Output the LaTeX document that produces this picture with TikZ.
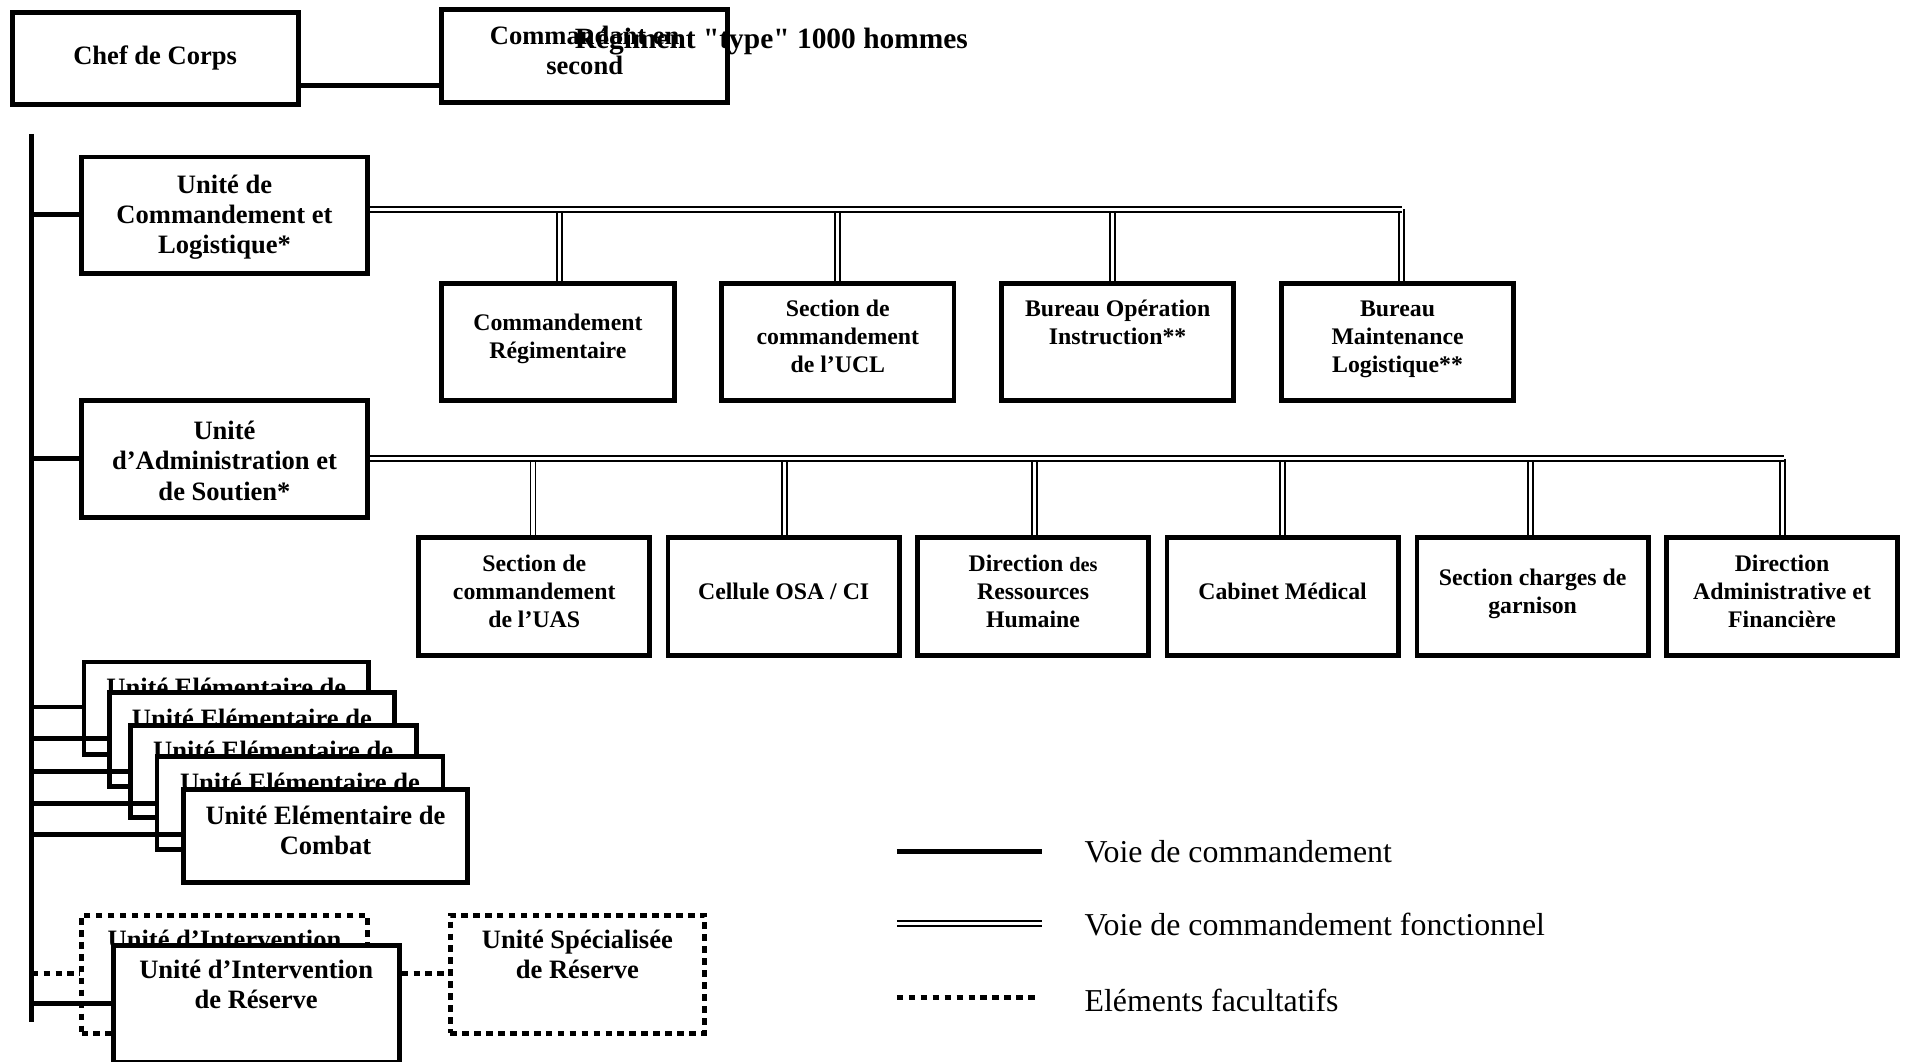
\documentclass[tikz,border=0pt]{standalone}
\usepackage{fontspec}
\setmainfont{Liberation Serif}[Ligatures=TeXOff]
\usetikzlibrary{calc}
\newcommand\lowfix{\rule[-5pt]{0pt}{0pt}}
\begin{document}
\begin{tikzpicture}[x=0.55pt,y=-0.55pt,
  ubox/.style={draw, line width=2.2pt, fill=white, align=center, inner sep=0pt,
    font=\bfseries\fontsize{12}{13.75}\selectfont},
  sbox/.style={ubox, font=\bfseries\fontsize{10.75}{12.65}\selectfont},
  obox/.style={ubox, dash pattern=on 3pt off 2.4pt},
  wh/.style 2 args={minimum width=#1*0.55pt, minimum height=#2*0.55pt},
  cmd/.style={line width=2.2pt},
  opt/.style={line width=2.2pt, dash pattern=on 3pt off 2.4pt},
  fct/.style={double, line width=0.85pt, double distance=1.4pt},
  leg/.style={anchor=west, inner sep=0pt, font=\fontsize{14.4}{16}\selectfont}]
\useasboundingbox (0,0) rectangle (1568,872);
\fill[white] (0,0) rectangle (1568,872);

% main vertical command line
\coordinate (vtop) at (26,110);
\coordinate (vbot) at (26,840);
\draw[cmd] (vtop) -- (vbot);

% ---------- top ----------
\node[ubox, wh={235}{76}] (chef) at (127.5,48) {Chef de Corps};
\draw[cmd] ([yshift=-12.1pt]chef.east) -- ++(115,0) coordinate (cmdw);
\node[ubox, wh={235}{76}] (cmdt) at (480.5,46) {Commandant en\\second\lowfix};
\node[anchor=west, inner sep=0pt, font=\bfseries\fontsize{13.3}{16}\selectfont] (title) at (472,34) {Régiment "type" 1000 hommes};

% ---------- UCL ----------
\coordinate (h1) at (304,172);
\coordinate (h1e) at (1152,172);
\coordinate (d11) at (460,172);
\coordinate (d12) at (688,172);
\coordinate (d13) at (914,172);
\coordinate (d14) at (1152,172);
\draw[cmd] (vtop |- 0,176) coordinate (b1) -- ++(40,0);
\draw[fct] (d11) -- ++(0,60) coordinate (e11);
\draw[fct] (d12) -- ++(0,60) coordinate (e12);
\draw[fct] (d13) -- ++(0,60) coordinate (e13);
\draw[fct] (d14) -- ++(0,60) coordinate (e14);
\draw[fct] (h1) -- (h1e);
\node[ubox, wh={235}{96}] (ucl) at (184.5,177) {\rule{0pt}{10pt}Unité de\\Commandement et\\Logistique*};
\node[sbox, wh={191}{96}] (cr) at (458.5,281) {Commandement\\Régimentaire\lowfix};
\node[sbox, wh={191}{96}] (scucl) at (688.5,281) {Section de\\commandement\\de l’UCL\lowfix};
\node[sbox, wh={191}{96}] (bop) at (918.5,281) {Bureau Opération\\Instruction**\\\lowfix};
\node[sbox, wh={191}{96}] (bml) at (1148.5,281) {Bureau\\Maintenance\\Logistique**\lowfix};

% ---------- UAS ----------
\coordinate (h2) at (304,377);
\coordinate (h2e) at (1466,377);
\coordinate (d21) at (438,377);
\coordinate (d22) at (645,377);
\coordinate (d23) at (850,377);
\coordinate (d24) at (1054,377);
\coordinate (d25) at (1258,377);
\coordinate (d26) at (1465,377);
\draw[cmd] (vtop |- 0,377) -- ++(40,0);
\foreach \d in {d21,d22,d23,d24,d25,d26} {\draw[fct] (\d) -- ++(0,66);}
\draw[fct] (h2) -- (h2e);
\node[ubox, wh={235}{96}] (uas) at (184.5,377) {\rule{0pt}{10pt}Unité\\d’Administration et\\de Soutien*};
\node[sbox, wh={190}{97}] (scuas) at (439,490.5) {Section de\\commandement\\de l’UAS\lowfix};
\node[sbox, wh={190}{97}] (osa) at (644,490.5) {Cellule OSA / CI\lowfix};
\node[sbox, wh={190}{97}] (drh) at (849,490.5) {Direction {\fontsize{9.2}{12.65}\selectfont des}\\Ressources\\Humaine\lowfix};
\node[sbox, wh={190}{97}] (cab) at (1054,490.5) {Cabinet Médical\lowfix};
\node[sbox, wh={190}{97}] (scg) at (1259.5,490.5) {Section charges de\\garnison\lowfix};
\node[sbox, wh={190}{97}] (daf) at (1464.5,490.5) {Direction\\Administrative et\\Financière\lowfix};

% ---------- UEC stack ----------
\draw[cmd] (vtop |- 0,581) -- ++(45,0);
\node[ubox, wh={234}{76}] (uec1) at (186,582) {Unité Elémentaire de\\Combat\lowfix};
\draw[cmd] (vtop |- 0,607) -- ++(65,0);
\node[ubox, wh={234}{77}] (uec2) at (207,607.5) {Unité Elémentaire de\\Combat\lowfix};
\draw[cmd] (vtop |- 0,634) -- ++(83,0);
\node[ubox, wh={235}{76}] (uec3) at (224.5,634) {Unité Elémentaire de\\Combat\lowfix};
\draw[cmd] (vtop |- 0,660) -- ++(105,0);
\node[ubox, wh={235}{76}] (uec4) at (246.5,660) {Unité Elémentaire de\\Combat\lowfix};
\draw[cmd] (vtop |- 0,686) -- ++(127,0);
\node[ubox, wh={233}{76}] (uec5) at (267.5,687) {Unité Elémentaire de\\Combat\lowfix};

% ---------- reserve ----------
\draw[opt] (vtop |- 0,800) -- ++(40,0);
\node[obox, wh={235}{97}] (uirb) at (184.5,800.5) {Unité d’Intervention\\de Réserve\\\strut};
\draw[cmd] (vtop |- 0,825) -- ++(66,0);
\node[ubox, wh={235}{96}] (uir) at (210.5,825) {Unité d’Intervention\\de Réserve\\\strut};
\node[obox, wh={209}{97}] (usr) at (474.5,800.5) {Unité Spécialisée\\de Réserve\\\strut};
\draw[opt] (uir.east |- 0,800) -- (usr.west |- 0,800);

% ---------- legend ----------
\coordinate (l1a) at (737,700); \coordinate (l1b) at (856,700);
\coordinate (l2a) at (737,759); \coordinate (l2b) at (856,759);
\coordinate (l3a) at (737,820); \coordinate (l3b) at (851,820);
\draw[cmd] (l1a) -- (l1b);
\draw[fct] (l2a) -- (l2b);
\draw[opt] (l3a) -- (l3b);
\node[leg] (t1) at (891,700) {Voie de commandement};
\node[leg] (t2) at (891,760) {Voie de commandement fonctionnel};
\node[leg] (t3) at (891,822) {Eléments facultatifs};
\end{tikzpicture}
\end{document}
